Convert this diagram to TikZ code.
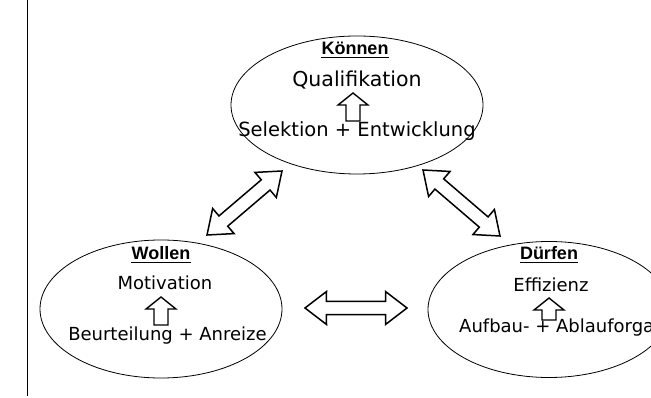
\documentclass[tikz,border=0pt]{standalone}
\usepackage{fontspec}
\setmainfont{DejaVu Sans}
\newfontfamily\ttlfont{Liberation Sans}
\usetikzlibrary{calc,shapes.geometric}
\tikzset{
  ell/.style={draw, ellipse, line width=0.8pt, inner sep=0pt},
  blk/.style={draw, line width=1.5pt, line join=miter, fill=white},
  lbl/.style={anchor=base, inner sep=0pt, font=\fontsize{18}{20}\selectfont},
  lblbig/.style={anchor=base, inner sep=0pt, font=\fontsize{20.5}{22}\selectfont},
  lblmid/.style={anchor=base, inner sep=0pt, font=\fontsize{19.5}{22}\selectfont},
  ttl/.style={anchor=base, inner sep=0pt, font=\ttlfont\bfseries\fontsize{18}{20}\selectfont},
  uline/.style={line width=1.2pt},
}
% hollow double block arrow between two named coordinates
\newcommand\dblblk[2]{\draw[blk] (#1) -- ($(#1)!27.1pt!37.5:(#2)$) -- ($(#1)!22.5pt!17.4:(#2)$) -- ($(#2)!22.5pt!-17.4:(#1)$) -- ($(#2)!27.1pt!-37.5:(#1)$) -- (#2) -- ($(#2)!27.1pt!37.5:(#1)$) -- ($(#2)!22.5pt!17.4:(#1)$) -- ($(#1)!22.5pt!-17.4:(#2)$) -- ($(#1)!27.1pt!-37.5:(#2)$) -- cycle;}
% hollow single block arrow: #1 tip, #2 tail (head length 12, head half width 15, stem half width 7)
\newcommand\upblk[2]{\draw[blk, line width=1.4pt] (#1) -- ($(#1)!19.2pt!51.3:(#2)$) -- ($(#1)!13.9pt!30.3:(#2)$) -- ($(#2)!7pt!-90:(#1)$) -- ($(#2)!7pt!90:(#1)$) -- ($(#1)!13.9pt!-30.3:(#2)$) -- ($(#1)!19.2pt!-51.3:(#2)$) -- cycle;}
\begin{document}
\begin{tikzpicture}[x=1pt,y=-1pt]
\useasboundingbox (0,0) rectangle (651,398);
\clip (0,0) rectangle (651,398);
\fill[white] (0,0) rectangle (651,398);
% left rule
\coordinate (vt) at (27,0);
\coordinate (vb) at (27,396);
\draw[line width=1pt] (vt) -- (vb);
% ellipses
\node[ell, minimum width=252pt, minimum height=138pt] (kon) at (357,105) {};
\node[ell, minimum width=242pt, minimum height=138pt] (wol) at (161,309) {};
\node[ell, minimum width=242pt, minimum height=136pt] (dur) at (549,309.5) {};
% Koennen
\node[ttl] (kt) at (355,55) {Können};
\draw[uline] ($(kt.base west)+(0,2.5)$) -- ($(kt.base east)+(0,2.5)$);
\node[lblbig] (kq) at (357,87) {Qualifikation};
\node[lblmid] (ks) at (357,137) {Selektion + Entwicklung};
\coordinate (kat) at (353,93);
\coordinate (kab) at (353,121);
\upblk{kat}{kab}
% Wollen
\node[ttl] (wt) at (161,260) {Wollen};
\draw[uline] ($(wt.base west)+(0,2.5)$) -- ($(wt.base east)+(0,2.5)$);
\node[lbl] (wm) at (165,290) {Motivation};
\node[lbl] (wb) at (167.5,341) {Beurteilung + Anreize};
\coordinate (wat) at (161,297);
\coordinate (wab) at (161,325);
\upblk{wat}{wab}
% Duerfen
\node[ttl] (dt) at (549,260) {Dürfen};
\draw[uline] ($(dt.base west)+(0,2.5)$) -- ($(dt.base east)+(0,2.5)$);
\node[lbl] (de) at (551,291) {Effizienz};
\node[lbl, anchor=base west] (da) at (459,332) {Aufbau- + Ablauforga};
\coordinate (dat) at (549,298);
\coordinate (dab) at (549,320);
\upblk{dat}{dab}
% double arrows
\coordinate (a1) at (207,235);
\coordinate (b1) at (282,171);
\coordinate (a2) at (423,170);
\coordinate (b2) at (500,236);
\coordinate (a3) at (305,308);
\coordinate (b3) at (407,308);
\dblblk{a1}{b1}
\dblblk{a2}{b2}
\dblblk{a3}{b3}
\end{tikzpicture}
\end{document}
